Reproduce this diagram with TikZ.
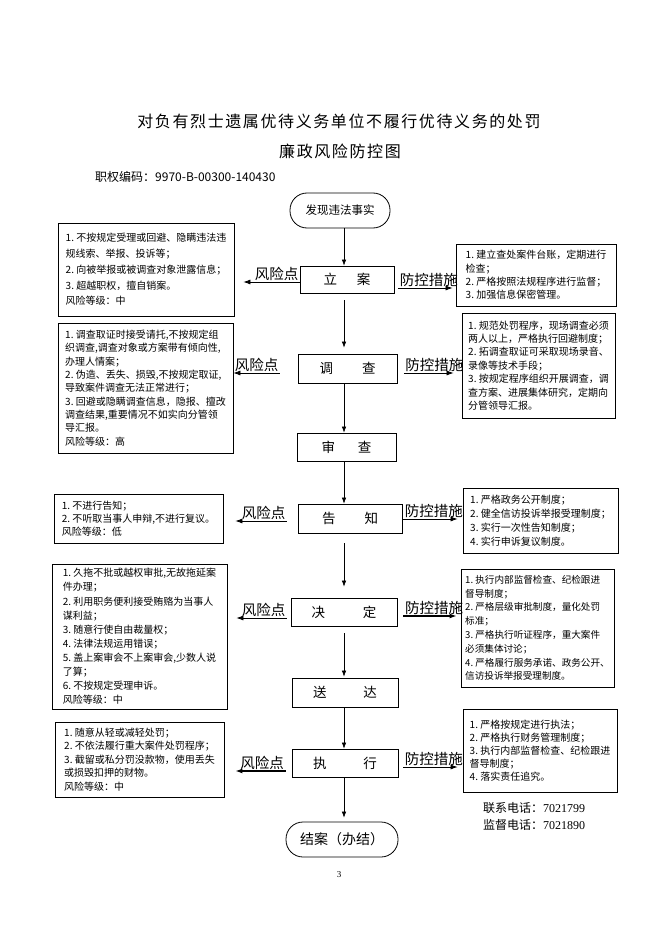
\documentclass[tikz,border=0pt]{standalone}
\usepackage{fontspec}
\setmainfont{Noto Sans CJK SC}
\newfontfamily\titlefont[LetterSpace=10]{Noto Sans CJK SC}
\newfontfamily\numfont{Liberation Serif}
\usetikzlibrary{arrows.meta}

\tikzset{
  stepbox/.style={draw, line width=0.8pt, inner sep=0pt, font=\fontsize{13.5}{16}\selectfont},
  endbox/.style={draw, line width=0.8pt, rounded corners=17pt, minimum height=35pt, inner sep=0pt},
  notebox/.style={draw, line width=0.8pt, align=left, inner sep=0pt, font=\fontsize{10}{13.5}\selectfont},
  flow/.style={-{Latex[length=6pt,width=4.5pt]}, line width=0.6pt},
  side/.style={-{Latex[length=7pt,width=5pt]}, line width=0.7pt},
  sidetag/.style={font=\fontsize{14.5}{16}\selectfont, inner sep=1pt}
}

\begin{document}
\begin{tikzpicture}[x=1pt,y=-1pt]
  \useasboundingbox (0,0) rectangle (662,936);

  % Title lines
  \node[font=\titlefont\fontsize{16}{18}\selectfont] (title) at (339,121) {对负有烈士遗属优待义务单位不履行优待义务的处罚};
  \node[font=\titlefont\fontsize{16}{18}\selectfont] (subtitle) at (340,151) {廉政风险防控图};
  \node[font=\fontsize{12}{14}\selectfont, anchor=west, inner sep=0pt] (code) at (95,177) {职权编码：9970-B-00300-140430};

  % Main column of steps
  \coordinate (axis) at (344,0);
  \node[endbox, minimum width=100pt, font=\fontsize{11.5}{14}\selectfont] (faxian) at (340,210.5) {发现违法事实};
  \node[stepbox, minimum width=94pt, minimum height=27pt] (lian) at (347,279.5) {立\hspace{20pt}案};
  \node[stepbox, minimum width=99pt, minimum height=29pt] (diaocha) at (347.5,368.5) {调\hspace{29pt}查};
  \node[stepbox, minimum width=99pt, minimum height=28pt] (shencha) at (346.5,447) {审\hspace{23pt}查};
  \node[stepbox, minimum width=104pt, minimum height=29pt] (gaozhi) at (350,518.5) {告\hspace{29pt}知};
  \node[stepbox, minimum width=106pt, minimum height=28pt] (jueding) at (344,612) {决\hspace{38pt}定};
  \node[stepbox, minimum width=106pt, minimum height=29pt] (songda) at (345,692.5) {送\hspace{37pt}达};
  \node[stepbox, minimum width=106pt, minimum height=28pt] (zhixing) at (345,763) {执\hspace{37pt}行};
  \node[endbox, minimum width=112pt, font=\fontsize{14}{16}\selectfont] (jiean) at (342,839.5) {结案（办结）};

  % Risk points on the left
  \node[notebox, minimum width=176pt, minimum height=93pt, font=\fontsize{10}{15.7}\selectfont] (risk-lian) at (146,269.5)
    {1.~不按规定受理或回避、隐瞒违法违\\规线索、举报、投诉等；\\2.~向被举报或被调查对象泄露信息；\\3.~超越职权，擅自销案。\\风险等级：中};
  \node[notebox, minimum width=175pt, minimum height=130pt, font=\fontsize{10}{13.3}\selectfont] (risk-diaocha) at (145.5,388)
    {1.~调查取证时接受请托,不按规定组\\织调查,调查对象或方案带有倾向性,\\办理人情案；\\2.~伪造、丢失、损毁,不按规定取证,\\导致案件调查无法正常进行；\\3.~回避或隐瞒调查信息，隐报、擅改\\调查结果,重要情况不如实向分管领\\导汇报。\\风险等级：高};
  \node[notebox, minimum width=169pt, minimum height=49pt, font=\fontsize{10}{13}\selectfont] (risk-gaozhi) at (138.5,518.5)
    {1.~不进行告知；\\2.~不听取当事人申辩,不进行复议。\\风险等级：低};
  \node[notebox, minimum width=175pt, minimum height=145pt, font=\fontsize{10}{14.1}\selectfont] (risk-jueding) at (139.5,636.5)
    {1.~久拖不批或越权审批,无故拖延案\\件办理；\\2.~利用职务便利接受贿赂为当事人\\谋利益；\\3.~随意行使自由裁量权；\\4.~法律法规运用错误；\\5.~盖上案审会不上案审会,少数人说\\了算；\\6.~不按规定受理申诉。\\风险等级：中};
  \node[notebox, minimum width=169pt, minimum height=75pt] (risk-zhixing) at (139.5,759.5)
    {1.~随意从轻或减轻处罚；\\2.~不依法履行重大案件处罚程序；\\3.~截留或私分罚没款物，使用丢失\\或损毁扣押的财物。\\风险等级：中};

  % Control measures on the right
  \node[notebox, minimum width=160pt, minimum height=62pt, font=\fontsize{10}{13.3}\selectfont] (ctrl-lian) at (536,275)
    {1.~建立查处案件台账，定期进行\\检查；\\2.~严格按照法规程序进行监督；\\3.~加强信息保密管理。};
  \node[notebox, minimum width=153pt, minimum height=105pt, font=\fontsize{10}{13.4}\selectfont] (ctrl-diaocha) at (538.5,365.5)
    {1.~规范处罚程序，现场调查必须\\两人以上，严格执行回避制度；\\2.~拓调查取证可采取现场录音、\\录像等技术手段；\\3.~按规定程序组织开展调查，调\\查方案、进展集体研究，定期向\\分管领导汇报。};
  \node[notebox, minimum width=155pt, minimum height=65pt, font=\fontsize{10}{14}\selectfont] (ctrl-gaozhi) at (540.5,520.5)
    {1.~严格政务公开制度；\\2.~健全信访投诉举报受理制度；\\3.~实行一次性告知制度；\\4.~实行申诉复议制度。};
  \node[notebox, minimum width=153pt, minimum height=118pt, font=\fontsize{9.6}{13.8}\selectfont] (ctrl-jueding) at (537.5,628)
    {1.~执行内部监督检查、纪检跟进\\督导制度；\\2.~严格层级审批制度，量化处罚\\标准；\\3.~严格执行听证程序，重大案件\\必须集体讨论；\\4.~严格履行服务承诺、政务公开、\\信访投诉举报受理制度。};
  \node[notebox, minimum width=154pt, minimum height=83pt, font=\fontsize{10}{13}\selectfont] (ctrl-zhixing) at (540,750.5)
    {1.~严格按规定进行执法；\\2.~严格执行财务管理制度；\\3.~执行内部监督检查、纪检跟进\\督导制度；\\4.~落实责任追究。};

  % Arrows down the main column
  \draw[flow] (axis |- faxian.south) -- (axis |- lian.north);
  \draw[flow, shorten <=7pt, shorten >=6pt] (axis |- lian.south) -- (axis |- diaocha.north);
  \draw[flow] (axis |- diaocha.south) -- (axis |- shencha.north);
  \draw[flow] (axis |- shencha.south) -- (axis |- gaozhi.north);
  \draw[flow, shorten <=10pt, shorten >=11pt] (axis |- gaozhi.south) -- (axis |- jueding.north);
  \draw[flow, shorten <=7pt, shorten >=1pt] (axis |- jueding.south) -- (axis |- songda.north);
  \draw[flow] (axis |- songda.south) -- (axis |- zhixing.north);
  \draw[flow, shorten >=4pt] (axis |- zhixing.south) -- (axis |- jiean.north);

  % Arrows out to the risk points
  \draw[side, shorten >=9pt] ([yshift=-2.5pt]lian.west) -- ([yshift=-2.5pt]lian.west -| risk-lian.east)
    node[pos=0, sidetag, anchor=south east] {风险点};
  \draw[side] ([xshift=-18pt,yshift=-4.5pt]diaocha.west) -- ([yshift=-4.5pt]diaocha.west -| risk-diaocha.east)
    node[pos=0, sidetag, anchor=south east] {风险点};
  \draw[side, shorten >=12pt] ([xshift=-11pt,yshift=-2.5pt]gaozhi.west) -- ([yshift=-2.5pt]gaozhi.west -| risk-gaozhi.east)
    node[pos=0, sidetag, anchor=south east] {风险点};
  \draw[side, shorten >=9pt] ([xshift=-4pt,yshift=-6pt]jueding.west) -- ([yshift=-6pt]jueding.west -| risk-jueding.east)
    node[pos=0, sidetag, anchor=south east] {风险点};
  \draw[side, line width=1.4pt, shorten >=11pt] ([xshift=-6pt,yshift=-8pt]zhixing.west) -- ([yshift=-8pt]zhixing.west -| risk-zhixing.east)
    node[pos=0, sidetag, anchor=south east] {风险点};

  % Arrows out to the control measures
  \draw[side, shorten >=3pt] ([xshift=4pt,yshift=-8.5pt]lian.east) -- ([yshift=-8.5pt]lian.east -| ctrl-lian.west)
    node[pos=0, sidetag, anchor=south west] {防控措施};
  \draw[side, shorten >=8pt] ([xshift=6.5pt,yshift=-4.5pt]diaocha.east) -- ([yshift=-4.5pt]diaocha.east -| ctrl-diaocha.west)
    node[pos=0, sidetag, anchor=south west] {防控措施};
  \draw[side, shorten >=5pt] ([xshift=1pt,yshift=-0.5pt]gaozhi.east) -- ([yshift=-0.5pt]gaozhi.east -| ctrl-gaozhi.west)
    node[pos=0, sidetag, anchor=south west] {防控措施};
  \draw[side, line width=1.4pt, shorten >=4pt] ([xshift=6pt,yshift=-4pt]jueding.east) -- ([yshift=-4pt]jueding.east -| ctrl-jueding.west)
    node[pos=0, sidetag, anchor=south west] {防控措施};
  \draw[side, shorten >=5pt] ([xshift=5pt,yshift=-4pt]zhixing.east) -- ([yshift=-4pt]zhixing.east -| ctrl-zhixing.west)
    node[pos=0, sidetag, anchor=south west] {防控措施};

  % Phone numbers and page number
  \node[anchor=west, inner sep=0pt, font=\fontsize{12}{14}\selectfont] (phone1) at (483,808) {联系电话：{\numfont 7021799}};
  \node[anchor=west, inner sep=0pt, font=\fontsize{12}{14}\selectfont] (phone2) at (483,825) {监督电话：{\numfont 7021890}};
  \node[font=\numfont\fontsize{9}{11}\selectfont] (pagenum) at (339,875) {3};
\end{tikzpicture}
\end{document}
